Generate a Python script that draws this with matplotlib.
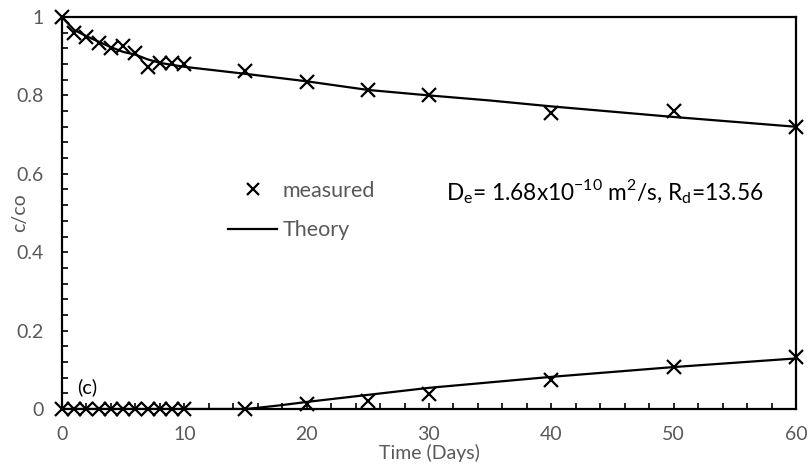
import matplotlib
matplotlib.use("Agg")
import matplotlib.pyplot as plt
from matplotlib.lines import Line2D
from matplotlib.ticker import MultipleLocator

plt.rcParams['font.family'] = ['Lato', 'DejaVu Sans']
plt.rcParams['mathtext.fontset'] = 'custom'
plt.rcParams['mathtext.rm'] = 'Lato'

# Measured concentration ratios
t_meas = [0, 1, 2, 3, 4, 5, 6, 7, 8, 9, 10, 15, 20, 25, 30, 40, 50, 60]
source_meas = [1.0, 0.959, 0.949, 0.934, 0.921, 0.926, 0.908, 0.872, 0.883, 0.883,
               0.880, 0.862, 0.834, 0.814, 0.801, 0.755, 0.760, 0.719]
receiver_meas = [0, 0, 0, 0, 0, 0, 0, 0, 0, 0, 0, 0, 0.013, 0.020, 0.038, 0.074, 0.107, 0.133]

# Theoretical curves
t_src_theory = [0, 1, 2, 3, 4, 5, 6, 7, 8, 10, 15, 20, 25, 30, 35, 40, 50, 60]
source_theory = [1.0, 0.967, 0.951, 0.937, 0.923, 0.911, 0.904, 0.892, 0.883, 0.873,
                 0.855, 0.836, 0.814, 0.800, 0.787, 0.772, 0.745, 0.720]
t_rcv_theory = [0, 10, 15, 16, 18, 20, 25, 30, 35, 40, 50, 60]
receiver_theory = [0, 0, 0, 0.003, 0.010, 0.018, 0.036, 0.054, 0.068, 0.082, 0.107, 0.129]

gray = '#595959'

fig = plt.figure(figsize=(8.11, 4.70), dpi=100)
ax = fig.add_axes([0.0764, 0.1298, 0.9051, 0.834])

ax.plot(t_src_theory, source_theory, color='black', lw=1.6, zorder=3)
ax.plot(t_rcv_theory, receiver_theory, color='black', lw=1.6, zorder=3)
ax.plot(t_meas, source_meas, 'x', color='black', ms=10, mew=1.6, clip_on=False, zorder=4)
ax.plot(t_meas, receiver_meas, 'x', color='black', ms=10, mew=1.6, clip_on=False, zorder=4)

ax.set_xlim(0, 60)
ax.set_ylim(0, 1)
ax.xaxis.set_major_locator(MultipleLocator(10))
ax.xaxis.set_minor_locator(MultipleLocator(2))
ax.yaxis.set_minor_locator(MultipleLocator(0.04))
ax.set_yticks([0, 0.2, 0.4, 0.6, 0.8, 1.0])
ax.set_yticklabels(['0', '0.2', '0.4', '0.6', '0.8', '1'])

ax.tick_params(which='both', direction='in', length=4, width=1.2, colors='black',
               labelcolor=gray, labelsize=14)
ax.tick_params(axis='x', pad=12)
ax.tick_params(axis='y', pad=13)
for sp in ax.spines.values():
    sp.set_linewidth(1.6)
    sp.set_color('black')

fig.text(429 / 811, 1 - 453 / 470, 'Time (Days)', color=gray, fontsize=14,
         ha='center', va='center')
fig.text(20 / 811, 1 - 213 / 470, 'c/co', color=gray, fontsize=14,
         ha='center', va='center', rotation=90)

handles = [Line2D([], [], ls='none', marker='x', color='black', ms=9, mew=1.6),
           Line2D([], [], color='black', lw=1.6)]
leg = ax.legend(handles, ['measured', 'Theory'], loc='upper left',
                bbox_to_anchor=(0.226, 0.582), frameon=False, fontsize=15.5,
                handlelength=2.3, handletextpad=0.25, labelspacing=0.9,
                borderpad=0, borderaxespad=0)
for txt in leg.get_texts():
    txt.set_color(gray)

ax.text(0.523, 0.533,
        r'D$_\mathregular{e}$= 1.68x10$^\mathregular{-10}$ m$^\mathregular{2}$/s, R$_\mathregular{d}$=13.56',
        transform=ax.transAxes, fontsize=16.3, color='black', va='baseline')
ax.text(0.02, 0.04, '(c)', transform=ax.transAxes, fontsize=14.5, color='black')

fig.savefig('out.png', dpi=100)
